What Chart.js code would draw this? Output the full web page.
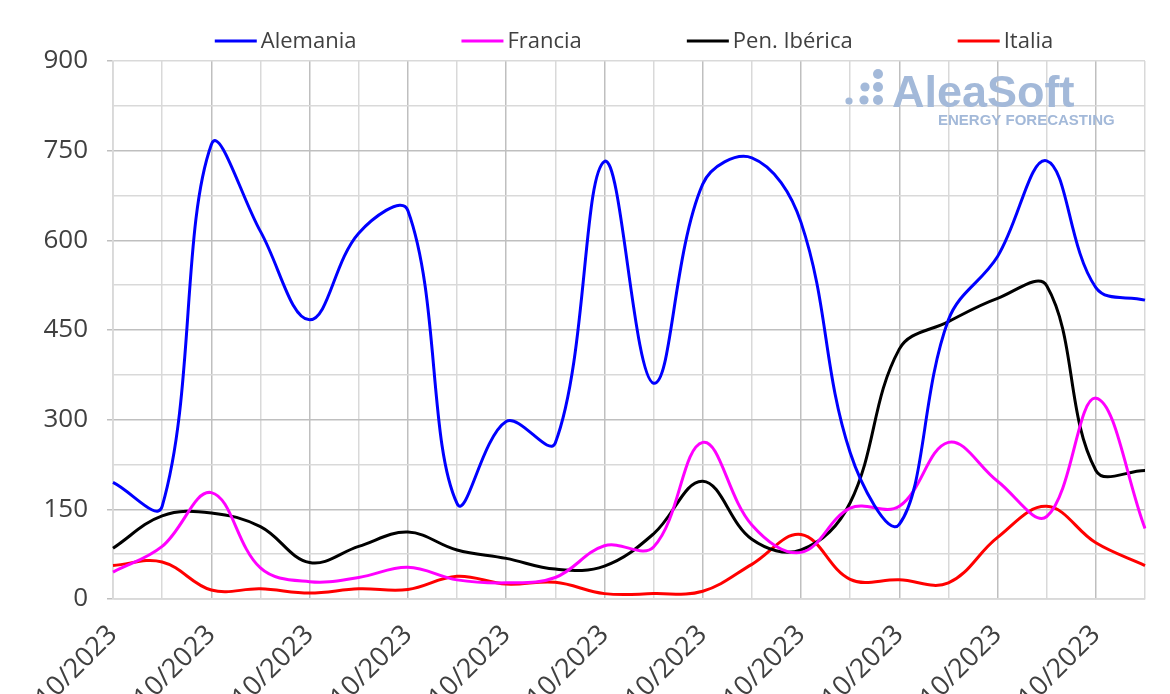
<!DOCTYPE html>
<html>
<head>
<meta charset="utf-8">
<script src="https://cdn.jsdelivr.net/npm/chart.js@4.4.1/dist/chart.umd.min.js"></script>
<style>
  html, body { margin: 0; padding: 0; background: #ffffff; }
  canvas { display: block; }
</style>
</head>
<body>
<canvas id="chart" width="1170" height="694"></canvas>
<script>
// Fechas (días de octubre 2023)
const labels = [
    "02/10/2023", "03/10/2023", "04/10/2023", "05/10/2023", "06/10/2023", "07/10/2023",
    "08/10/2023", "09/10/2023", "10/10/2023", "11/10/2023", "12/10/2023", "13/10/2023",
    "14/10/2023", "15/10/2023", "16/10/2023", "17/10/2023", "18/10/2023", "19/10/2023",
    "20/10/2023", "21/10/2023", "22/10/2023", "23/10/2023",
];

// Valores
const alemania = [195, 155, 760, 615, 467, 612, 650, 160, 297, 261, 732, 361,
    694, 738, 630, 245, 125, 467, 573, 733, 521, 500];
const francia = [45, 88, 178, 52, 29, 36, 53, 32, 27, 36, 89, 87,
    262, 124, 78, 152, 155, 262, 197, 138, 336, 118];
const penIberica = [85, 139, 144, 121, 61, 88, 112, 82, 68, 50, 55, 109,
    197, 100, 82, 161, 418, 464, 503, 524, 215, 215];
const italia = [56, 62, 15, 17, 10, 17, 16, 38, 25, 28, 9, 9,
    13, 58, 108, 33, 32, 27, 103, 155, 94, 56];

const yTicks = [0, 150, 300, 450, 600, 750, 900];

const FONT = "'Open Sans', 'DejaVu Sans', sans-serif";
const GRID_MAJOR = "#bfbfbf";
const GRID_MINOR = "#d9d9d9";

// Legende oben, eigene Zeichnung (Abstände wie im Original)
const legendPlugin = {
    id: "topLegend",
    afterDraw(chart) {
        const ctx = chart.ctx;
        const sets = chart.data.datasets;
        const lineW = 42, textGap = 4, itemGap = 105, y = 41;
        ctx.save();
        ctx.font = "22px " + FONT;
        const widths = sets.map((d) => lineW + textGap + ctx.measureText(d.label).width);
        const total = widths.reduce((a, b) => a + b, 0) + itemGap * (sets.length - 1);
        let x = 634 - total / 2;
        sets.forEach((d, i) => {
            ctx.strokeStyle = d.borderColor;
            ctx.lineWidth = 3;
            ctx.beginPath();
            ctx.moveTo(x, y);
            ctx.lineTo(x + lineW, y);
            ctx.stroke();
            ctx.fillStyle = "#404040";
            ctx.textBaseline = "middle";
            ctx.textAlign = "left";
            ctx.fillText(d.label, x + lineW + textGap, y + 1);
            x += widths[i] + itemGap;
        });
        ctx.restore();
    },
};

// Wasserzeichen AleaSoft
const watermarkPlugin = {
    id: "watermark",
    beforeDatasetsDraw(chart) {
        const ctx = chart.ctx;
        ctx.save();
        ctx.fillStyle = "#a3b9d9";
        const dots = [
            [849, 101, 3.6], [864, 100, 4.6], [878, 100, 5],
            [865, 87, 4.6], [878, 87, 5],
            [878, 74, 5],
        ];
        dots.forEach(([cx, cy, r]) => {
            ctx.beginPath();
            ctx.arc(cx, cy, r, 0, Math.PI * 2);
            ctx.fill();
        });
        ctx.font = "bold 45px 'Liberation Sans', Arial, sans-serif";
        ctx.textBaseline = "alphabetic";
        ctx.fillText("AleaSoft", 892, 107);
        ctx.font = "bold 15px 'Liberation Sans', Arial, sans-serif";
        ctx.fillText("ENERGY FORECASTING", 938, 125);
        ctx.restore();
    },
};

function makeSet(label, data, color) {
    return {
        label,
        data,
        borderColor: color,
        backgroundColor: color,
        borderWidth: 3,
        pointRadius: 0,
        tension: 0.38,
        fill: false,
    };
}

const canvas = document.getElementById("chart");
new Chart(canvas.getContext("2d"), {
    type: "line",
    data: {
        labels,
        datasets: [
            makeSet("Alemania", alemania, "#0000ff"),
            makeSet("Francia", francia, "#ff00ff"),
            makeSet("Pen. Ibérica", penIberica, "#000000"),
            makeSet("Italia", italia, "#ff0000"),
        ],
    },
    options: {
        responsive: false,
        maintainAspectRatio: false,
        animation: false,
        layout: { padding: { top: 61, right: 25, left: 0, bottom: 0 } },
        plugins: {
            legend: { display: false },
            tooltip: { enabled: false },
        },
        scales: {
            x: {
                offset: false,
                grid: {
                    color: (c) => (c.index % 2 === 0 ? GRID_MAJOR : GRID_MINOR),
                    lineWidth: 1.5,
                    drawTicks: false,
                },
                border: { color: GRID_MINOR, width: 1.5 },
                ticks: {
                    autoSkip: false,
                    minRotation: 45,
                    maxRotation: 45,
                    padding: 20,
                    color: "#404040",
                    font: { family: FONT, size: 27 },
                    callback: (v, i) => (i % 2 === 0 ? labels[i] : ""),
                },
                afterFit: (scale) => {
                    scale.height = 95;
                    scale.paddingRight = 0;
                    scale.paddingLeft = 0;
                },
            },
            y: {
                min: 0,
                max: 900,
                grid: {
                    color: (c) => (c.tick.value % 150 === 0 && c.tick.value < 900 ? GRID_MAJOR : GRID_MINOR),
                    tickColor: (c) => (c.tick.value % 150 === 0 ? GRID_MAJOR : "rgba(0,0,0,0)"),
                    lineWidth: 1.5,
                    tickLength: 6,
                },
                border: { color: GRID_MINOR, width: 1.5 },
                ticks: {
                    stepSize: 75,
                    padding: 19,
                    color: "#404040",
                    font: { family: FONT, size: 26 },
                    callback: (v) => (yTicks.includes(v) ? String(v) : ""),
                },
                afterFit: (scale) => {
                    scale.width = 113;
                    scale.paddingTop = 0;
                    scale.paddingBottom = 0;
                },
            },
        },
    },
    plugins: [watermarkPlugin, legendPlugin],
});
</script>
</body>
</html>
